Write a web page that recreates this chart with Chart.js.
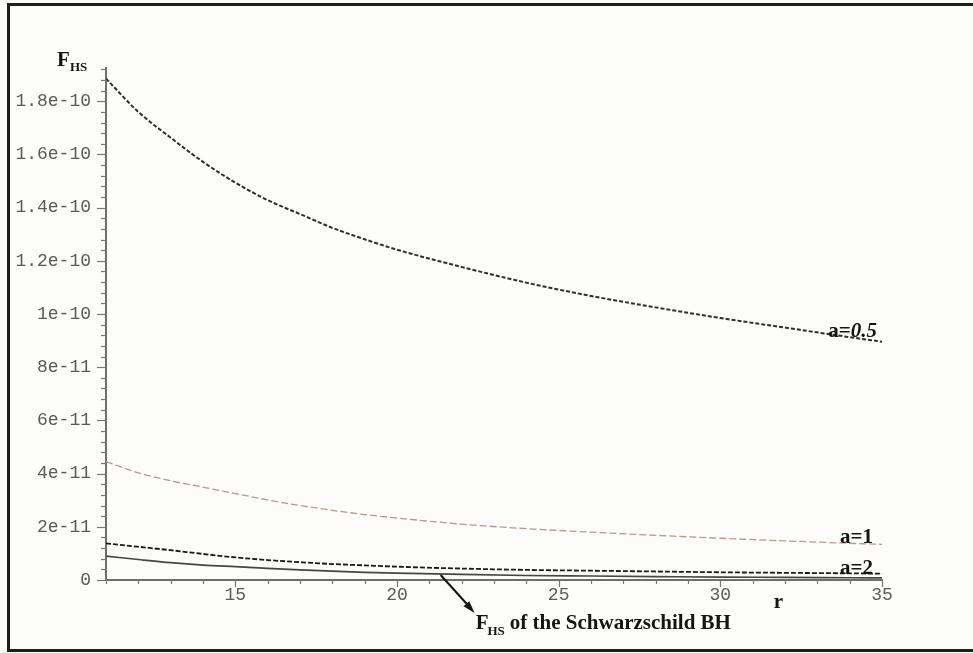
<!DOCTYPE html>
<html>
<head>
<meta charset="utf-8">
<script src="https://cdn.jsdelivr.net/npm/chart.js@4.4.1/dist/chart.umd.min.js"></script>
<style>
  html, body { margin: 0; padding: 0; background: #fcfcfa; overflow: hidden; }
  #wrap { position: relative; width: 973px; height: 653px; }
  #frame { position: absolute; left: 7px; top: 3px; width: 1000px; height: 643px; border: 3px solid #1e1e1e; box-sizing: content-box; }
  canvas { position: absolute; left: 0; top: 0; }
</style>
</head>
<body>
<div id="wrap">
  <div id="frame"></div>
  <canvas id="c" width="973" height="653"></canvas>
</div>
<script>
// ---- data ----
const rValues = [11, 12, 13, 14, 15, 16, 17, 18, 19, 20, 22, 24, 26, 28, 30, 32, 34, 35];
const fA05 = [18.85e-11, 17.6e-11, 16.63e-11, 15.72e-11, 14.94e-11, 14.28e-11, 13.76e-11, 13.24e-11, 12.81e-11, 12.42e-11, 11.77e-11, 11.18e-11, 10.68e-11, 10.25e-11, 9.85e-11, 9.49e-11, 9.13e-11, 8.96e-11];
const fA1 = [4.45e-11, 4.03e-11, 3.73e-11, 3.49e-11, 3.25e-11, 3.01e-11, 2.80e-11, 2.62e-11, 2.46e-11, 2.33e-11, 2.10e-11, 1.93e-11, 1.80e-11, 1.68e-11, 1.57e-11, 1.47e-11, 1.38e-11, 1.34e-11];
const fA2 = [1.38e-11, 1.25e-11, 1.12e-11, 0.98e-11, 0.85e-11, 0.75e-11, 0.67e-11, 0.60e-11, 0.55e-11, 0.50e-11, 0.43e-11, 0.38e-11, 0.35e-11, 0.32e-11, 0.29e-11, 0.27e-11, 0.25e-11, 0.24e-11];
const fSchw = [0.90e-11, 0.77e-11, 0.65e-11, 0.56e-11, 0.50e-11, 0.44e-11, 0.38e-11, 0.33e-11, 0.29e-11, 0.26e-11, 0.21e-11, 0.17e-11, 0.15e-11, 0.13e-11, 0.11e-11, 0.10e-11, 0.085e-11, 0.08e-11];

const xTickValues = [15, 20, 25, 30, 35];
const xTickLabels = ["15", "20", "25", "30", "35"];
const yTickValues = [0, 2e-11, 4e-11, 6e-11, 8e-11, 1e-10, 1.2e-10, 1.4e-10, 1.6e-10, 1.8e-10];
const yTickLabels = ["0", "2e-11", "4e-11", "6e-11", "8e-11", "1e-10", "1.2e-10", "1.4e-10", "1.6e-10", "1.8e-10"];
const xRange = [11, 35];
const yRange = [0, 1.925e-10];
const xMinorStep = 1;
const yMinorStep = 4e-12;

const curveLabels = ["a=", "0.5", "a=1", "a=2"];
const axisTitleY = ["F", "HS"];
const axisTitleX = "r";
const noteText = ["F", "HS", "of the Schwarzschild BH"];
const arrowAtR = 21.35;

function pts(ys) { return rValues.map((r, i) => ({ x: r, y: ys[i] })); }

const serif = '"Liberation Serif", "Times New Roman", serif';

const annot = {
  id: 'annot',
  afterDraw(chart) {
    const { ctx, chartArea: ca } = chart;
    const xs = chart.scales.x, ys = chart.scales.y;
    ctx.save();
    // tick marks
    ctx.strokeStyle = '#777';
    ctx.lineWidth = 1.2;
    const nY = Math.round((yRange[1] - yRange[0]) / yMinorStep);
    for (let k = 0; k <= nY; k++) {
      const v = k * yMinorStep;
      if (v > yRange[1]) break;
      const py = Math.round(ys.getPixelForValue(v)) + 0.5;
      const major = k % 5 === 0;
      ctx.beginPath();
      ctx.moveTo(ca.left - (major ? 9 : 5), py);
      ctx.lineTo(ca.left + 1, py);
      ctx.stroke();
    }
    for (let r = xRange[0]; r <= xRange[1]; r += xMinorStep) {
      const px = Math.round(xs.getPixelForValue(r)) + 0.5;
      const major = r % 5 === 0;
      ctx.beginPath();
      ctx.moveTo(px, ca.bottom - 1);
      ctx.lineTo(px, ca.bottom + (major ? 7 : 4));
      ctx.stroke();
    }

    ctx.fillStyle = '#141414';
    ctx.textBaseline = 'alphabetic';
    // y axis title F_HS
    ctx.textAlign = 'left';
    ctx.font = 'bold 21px ' + serif;
    ctx.fillText(axisTitleY[0], ca.left - 49, ca.top - 2);
    ctx.font = 'bold 13px ' + serif;
    ctx.fillText(axisTitleY[1], ca.left - 36, ca.top + 3);
    // x axis title r
    ctx.textAlign = 'center';
    ctx.font = 'bold 21px ' + serif;
    ctx.fillText(axisTitleX, xs.getPixelForValue(31.8), ca.bottom + 28);

    // curve labels
    const right = xs.getPixelForValue(35) - 5;
    ctx.textAlign = 'left';
    ctx.font = 'bold 21px ' + serif;
    const w1 = ctx.measureText(curveLabels[0]).width;
    ctx.font = 'bold italic 21px ' + serif;
    const w2 = ctx.measureText(curveLabels[1]).width;
    const y05 = ys.getPixelForValue(fA05[fA05.length - 1]) - 5;
    ctx.font = 'bold 21px ' + serif;
    ctx.fillText(curveLabels[0], right - w1 - w2, y05);
    ctx.font = 'bold italic 21px ' + serif;
    ctx.fillText(curveLabels[1], right - w2, y05);
    ctx.font = 'bold 21px ' + serif;
    ctx.textAlign = 'right';
    ctx.fillText(curveLabels[2], right - 4, ys.getPixelForValue(fA1[fA1.length - 1]) - 1);
    ctx.fillText(curveLabels[3], right - 4, ys.getPixelForValue(fA2[fA2.length - 1]) + 0);

    // arrow
    const sx = xs.getPixelForValue(arrowAtR), sy = ca.bottom - 5;
    const ex = sx + 34, ey = sy + 38;
    ctx.strokeStyle = '#111';
    ctx.lineWidth = 2;
    ctx.beginPath();
    ctx.moveTo(sx, sy);
    ctx.lineTo(ex - 6, ey - 7);
    ctx.stroke();
    const ang = Math.atan2(ey - sy, ex - sx);
    ctx.beginPath();
    ctx.moveTo(ex, ey);
    ctx.lineTo(ex - 13 * Math.cos(ang - 0.3), ey - 13 * Math.sin(ang - 0.3));
    ctx.lineTo(ex - 13 * Math.cos(ang + 0.3), ey - 13 * Math.sin(ang + 0.3));
    ctx.closePath();
    ctx.fill();

    // note text
    ctx.textAlign = 'left';
    ctx.font = 'bold 21px ' + serif;
    const nx = ex + 1, ny = ey + 16;
    ctx.fillText(noteText[0], nx, ny);
    const fw = ctx.measureText(noteText[0]).width;
    ctx.font = 'bold 13px ' + serif;
    ctx.fillText(noteText[1], nx + fw - 1, ny + 6);
    const hw = ctx.measureText(noteText[1]).width;
    ctx.font = 'bold 21px ' + serif;
    ctx.fillText(noteText[2], nx + fw + hw + 4, ny);
    ctx.restore();
  }
};

new Chart(document.getElementById('c'), {
  type: 'line',
  data: {
    datasets: [
      { label: 'a=0.5', data: pts(fA05), borderColor: '#2e2e2e', borderWidth: 2, borderDash: [4, 2], pointRadius: 0, cubicInterpolationMode: 'monotone', fill: false },
      { label: 'a=1', data: pts(fA1), borderColor: '#b59a92', borderWidth: 1.3, borderDash: [7, 3], pointRadius: 0, cubicInterpolationMode: 'monotone', fill: false },
      { label: 'a=2', data: pts(fA2), borderColor: '#1a1a1a', borderWidth: 1.8, borderDash: [5, 2], pointRadius: 0, cubicInterpolationMode: 'monotone', fill: false },
      { label: 'Schwarzschild', data: pts(fSchw), borderColor: '#454545', borderWidth: 1.7, pointRadius: 0, cubicInterpolationMode: 'monotone', fill: false }
    ]
  },
  options: {
    responsive: false,
    animation: false,
    devicePixelRatio: 1,
    layout: { padding: { left: 0, top: 68, right: 91, bottom: 0 } },
    plugins: { legend: { display: false }, tooltip: { enabled: false } },
    scales: {
      x: {
        type: 'linear', min: xRange[0], max: xRange[1],
        afterBuildTicks: ax => { ax.ticks = xTickValues.map(v => ({ value: v })); },
        afterFit: ax => { ax.height = 73; },
        grid: { display: false, drawTicks: false },
        border: { display: true, color: '#6e6e6e', width: 2 },
        ticks: { color: '#5a5a5a', font: { family: '"Liberation Mono", monospace', size: 18 }, padding: 4, maxRotation: 0, autoSkip: false,
          callback: (v, i) => xTickLabels[i] }
      },
      y: {
        type: 'linear', min: yRange[0], max: yRange[1],
        afterBuildTicks: ax => { ax.ticks = yTickValues.map(v => ({ value: v })); },
        afterFit: ax => { ax.width = 106; },
        grid: { display: false, drawTicks: false },
        border: { display: true, color: '#6e6e6e', width: 2 },
        ticks: { color: '#5a5a5a', font: { family: '"Liberation Mono", monospace', size: 18 }, padding: 15, autoSkip: false,
          callback: (v, i) => yTickLabels[i] }
      }
    }
  },
  plugins: [annot]
});
</script>
</body>
</html>
